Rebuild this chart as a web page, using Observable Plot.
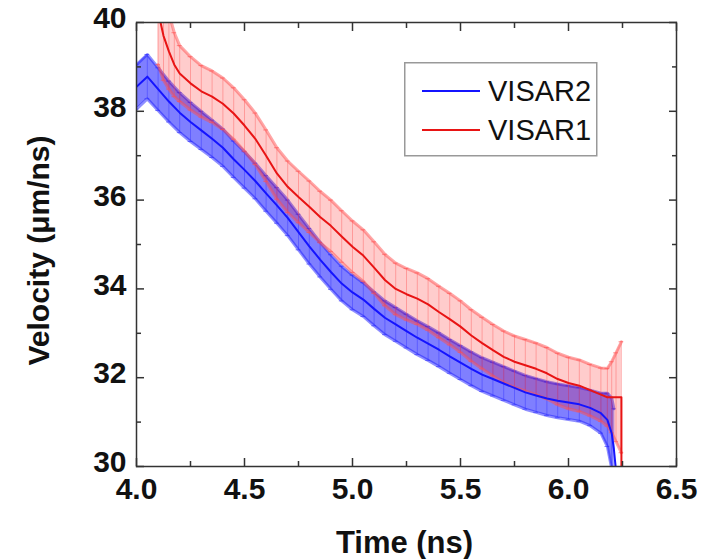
<!DOCTYPE html>
<html><head><meta charset="utf-8">
<script src="https://cdn.jsdelivr.net/npm/d3@7"></script>
<script src="https://cdn.jsdelivr.net/npm/@observablehq/plot@0.6"></script>
<style>
body{margin:0;background:#fff}
#wrap{position:relative;width:706px;height:559px}
#legend{position:absolute;left:404px;top:62px}
</style>
</head><body><div id="wrap"></div>
<script>
// VISAR2 (blue): time (ns), velocity (um/ns), error
const t2 = [4.00,4.05,4.10,4.15,4.20,4.25,4.30,4.35,4.40,4.45,
            4.50,4.55,4.60,4.65,4.70,4.75,4.80,4.85,4.90,4.95,
            5.00,5.05,5.10,5.15,5.20,5.25,5.30,5.35,5.40,5.45,
            5.50,5.55,5.60,5.65,5.70,5.75,5.80,5.85,5.90,5.95,
            6.00,6.05,6.10,6.15,6.18,6.20,6.21,6.22];
const v2 = [38.55,38.78,38.50,38.22,37.97,37.76,37.57,37.38,37.18,36.92,
            36.68,36.43,36.15,35.88,35.60,35.28,34.96,34.66,34.38,34.12,
            33.92,33.76,33.55,33.35,33.20,33.05,32.90,32.77,32.63,32.48,
            32.34,32.20,32.07,31.97,31.87,31.77,31.67,31.60,31.53,31.48,
            31.44,31.40,31.32,31.20,31.05,30.75,30.40,29.90];
const e2 = [0.50,0.50,0.48,0.46,0.45,0.44,0.43,0.42,0.42,0.41,
            0.41,0.40,0.40,0.40,0.40,0.40,0.40,0.39,0.39,0.39,
            0.39,0.38,0.38,0.38,0.38,0.38,0.38,0.38,0.38,0.38,
            0.38,0.38,0.38,0.38,0.38,0.38,0.38,0.38,0.38,0.38,
            0.38,0.38,0.40,0.45,0.60,0.80,0.90,0];

// VISAR1 (red)
const t1 = [4.10,4.125,4.15,4.175,4.20,
            4.25,4.30,4.35,4.40,4.45,4.50,4.55,4.60,4.65,4.70,
            4.75,4.80,4.85,4.90,4.95,5.00,5.05,5.10,5.15,5.20,
            5.25,5.30,5.35,5.40,5.45,5.50,5.55,5.60,5.65,5.70,
            5.75,5.80,5.85,5.90,5.95,6.00,6.05,6.10,6.15,
            6.18,6.20,6.22,6.245,6.245];
const v1 = [40.25,39.70,39.35,39.05,38.85,
            38.63,38.45,38.33,38.17,37.95,37.68,37.38,37.00,36.60,36.30,
            36.07,35.85,35.62,35.42,35.18,34.95,34.75,34.48,34.20,34.00,
            33.88,33.78,33.65,33.48,33.32,33.15,32.95,32.78,32.62,32.47,
            32.36,32.28,32.20,32.10,31.97,31.88,31.82,31.72,31.62,
            31.56,31.56,31.56,31.56,29.00];
const e1 = [1.20,1.00,0.85,0.72,0.63,
            0.60,0.58,0.58,0.58,0.58,0.58,0.58,0.58,0.58,0.58,
            0.58,0.58,0.58,0.58,0.58,0.58,0.58,0.58,0.58,0.58,
            0.58,0.58,0.58,0.58,0.58,0.58,0.58,0.58,0.58,0.58,
            0.58,0.58,0.58,0.58,0.58,0.58,0.58,0.58,0.60,
            0.65,0.80,1.00,1.25,0];

const xMajor = [4.0,4.5,5.0,5.5,6.0,6.5];
const xMinor = [4.25,4.75,5.25,5.75,6.25];
const yMajor = [30,32,34,36,38,40];
const yMinor = [31,33,35,37,39];
const seriesNames = ["VISAR2","VISAR1"];
const seriesColors = ["#1414ff","#e81414"];
const xLabel = "Time (ns)";
const yLabel = "Velocity (\u03bcm/ns)";

const rows = (t, v, e) => t.map((d, i) => ({t: d, v: v[i], e: e[i], lo: v[i] - e[i], hi: v[i] + e[i]}));
const s2 = rows(t2, v2, e2), s1 = rows(t1, v1, e1);
const b2 = s2.filter(d => d.e > 0), b1 = s1.filter(d => d.e > 0);
const cap = 0.011;

function bandMarks(b, col, fillOp, ruleCol, ruleOp, edgeOp) {
  return [
    Plot.areaY(b, {x: "t", y1: "lo", y2: "hi", fill: col, fillOpacity: fillOp, clip: true}),
    Plot.ruleX(b, {x: "t", y1: "lo", y2: "hi", stroke: ruleCol, strokeOpacity: ruleOp, strokeWidth: 1, clip: true}),
    Plot.ruleY(b, {y: "hi", x1: d => d.t - cap, x2: d => d.t + cap, stroke: ruleCol, strokeOpacity: ruleOp + 0.2, clip: true}),
    Plot.ruleY(b, {y: "lo", x1: d => d.t - cap, x2: d => d.t + cap, stroke: ruleCol, strokeOpacity: ruleOp + 0.2, clip: true}),
    Plot.lineY(b, {x: "t", y: "hi", stroke: ruleCol, strokeOpacity: edgeOp, strokeWidth: 3, clip: true}),
    Plot.lineY(b, {x: "t", y: "lo", stroke: ruleCol, strokeOpacity: edgeOp, strokeWidth: 3, clip: true})
  ];
}

const noText = () => "";
const tk = {label: null, stroke: "#333", strokeWidth: 1.5, tickFormat: noText};
const chart = Plot.plot({
  width: 706, height: 559,
  marginLeft: 136, marginRight: 30, marginTop: 22, marginBottom: 93,
  style: {fontFamily: "'Liberation Sans', Arial, sans-serif", fontSize: "30px", fontWeight: "bold", background: "#fff", color: "#111"},
  x: {domain: [4, 6.5]},
  y: {domain: [30, 40]},
  marks: [
    ...bandMarks(b2, "#0000ff", 0.5, "#2020ff", 0.35, 0.5),
    ...bandMarks(b1, "#ff0000", 0.2, "#ff5050", 0.4, 0.5),
    Plot.lineY(s2, {x: "t", y: "v", stroke: seriesColors[0], strokeWidth: 2, clip: true}),
    Plot.lineY(s1, {x: "t", y: "v", stroke: seriesColors[1], strokeWidth: 2, clip: true}),
    Plot.frame({stroke: "#333", strokeWidth: 1.5}),
    Plot.axisX(xMajor, {anchor: "bottom", tickSize: 0, tickPadding: 11, tickFormat: d => d.toFixed(1), label: null}),
    Plot.axisX(xMajor, {anchor: "bottom", tickSize: -8, ...tk}),
    Plot.axisX(xMinor, {anchor: "bottom", tickSize: -5, ...tk}),
    Plot.axisX(xMajor, {anchor: "top", tickSize: -8, ...tk}),
    Plot.axisX(xMinor, {anchor: "top", tickSize: -5, ...tk}),
    Plot.axisY(yMajor, {anchor: "left", tickSize: 0, tickPadding: 10, dy: -4, label: null}),
    Plot.axisY(yMajor, {anchor: "left", tickSize: -8, ...tk}),
    Plot.axisY(yMinor, {anchor: "left", tickSize: -5, ...tk}),
    Plot.axisY(yMajor, {anchor: "right", tickSize: -8, ...tk}),
    Plot.axisY(yMinor, {anchor: "right", tickSize: -5, ...tk}),
    Plot.text([xLabel], {frameAnchor: "bottom", dy: 86, dx: -2, textAnchor: "middle", lineAnchor: "bottom", fontSize: 31, fontWeight: "bold"}),
    Plot.text([yLabel], {frameAnchor: "left", dx: -88, dy: 6, rotate: -90, textAnchor: "middle", lineAnchor: "bottom", fontSize: 30, fontWeight: "bold"})
  ]
});
const wrap = document.getElementById("wrap");
wrap.appendChild(chart);

// legend
const ns = "http://www.w3.org/2000/svg";
const lg = document.createElementNS(ns, "svg");
lg.setAttribute("id", "legend");
lg.setAttribute("width", 195); lg.setAttribute("height", 96);
const rect = document.createElementNS(ns, "rect");
rect.setAttribute("x", 0.75); rect.setAttribute("y", 0.75);
rect.setAttribute("width", 192); rect.setAttribute("height", 93);
rect.setAttribute("fill", "#fff"); rect.setAttribute("stroke", "#999"); rect.setAttribute("stroke-width", 1.5);
lg.appendChild(rect);
seriesNames.forEach((name, i) => {
  const y = 29 + i * 39;
  const ln = document.createElementNS(ns, "line");
  ln.setAttribute("x1", 18); ln.setAttribute("x2", 76); ln.setAttribute("y1", y); ln.setAttribute("y2", y);
  ln.setAttribute("stroke", seriesColors[i]); ln.setAttribute("stroke-width", 2);
  lg.appendChild(ln);
  const tx = document.createElementNS(ns, "text");
  tx.setAttribute("x", 84); tx.setAttribute("y", y);
  tx.setAttribute("dy", "0.36em");
  tx.setAttribute("font-family", "'Liberation Sans', Arial, sans-serif");
  tx.setAttribute("font-size", 29);
  tx.setAttribute("fill", "#111");
  tx.textContent = name;
  lg.appendChild(tx);
});
wrap.appendChild(lg);
</script>
</body></html>
